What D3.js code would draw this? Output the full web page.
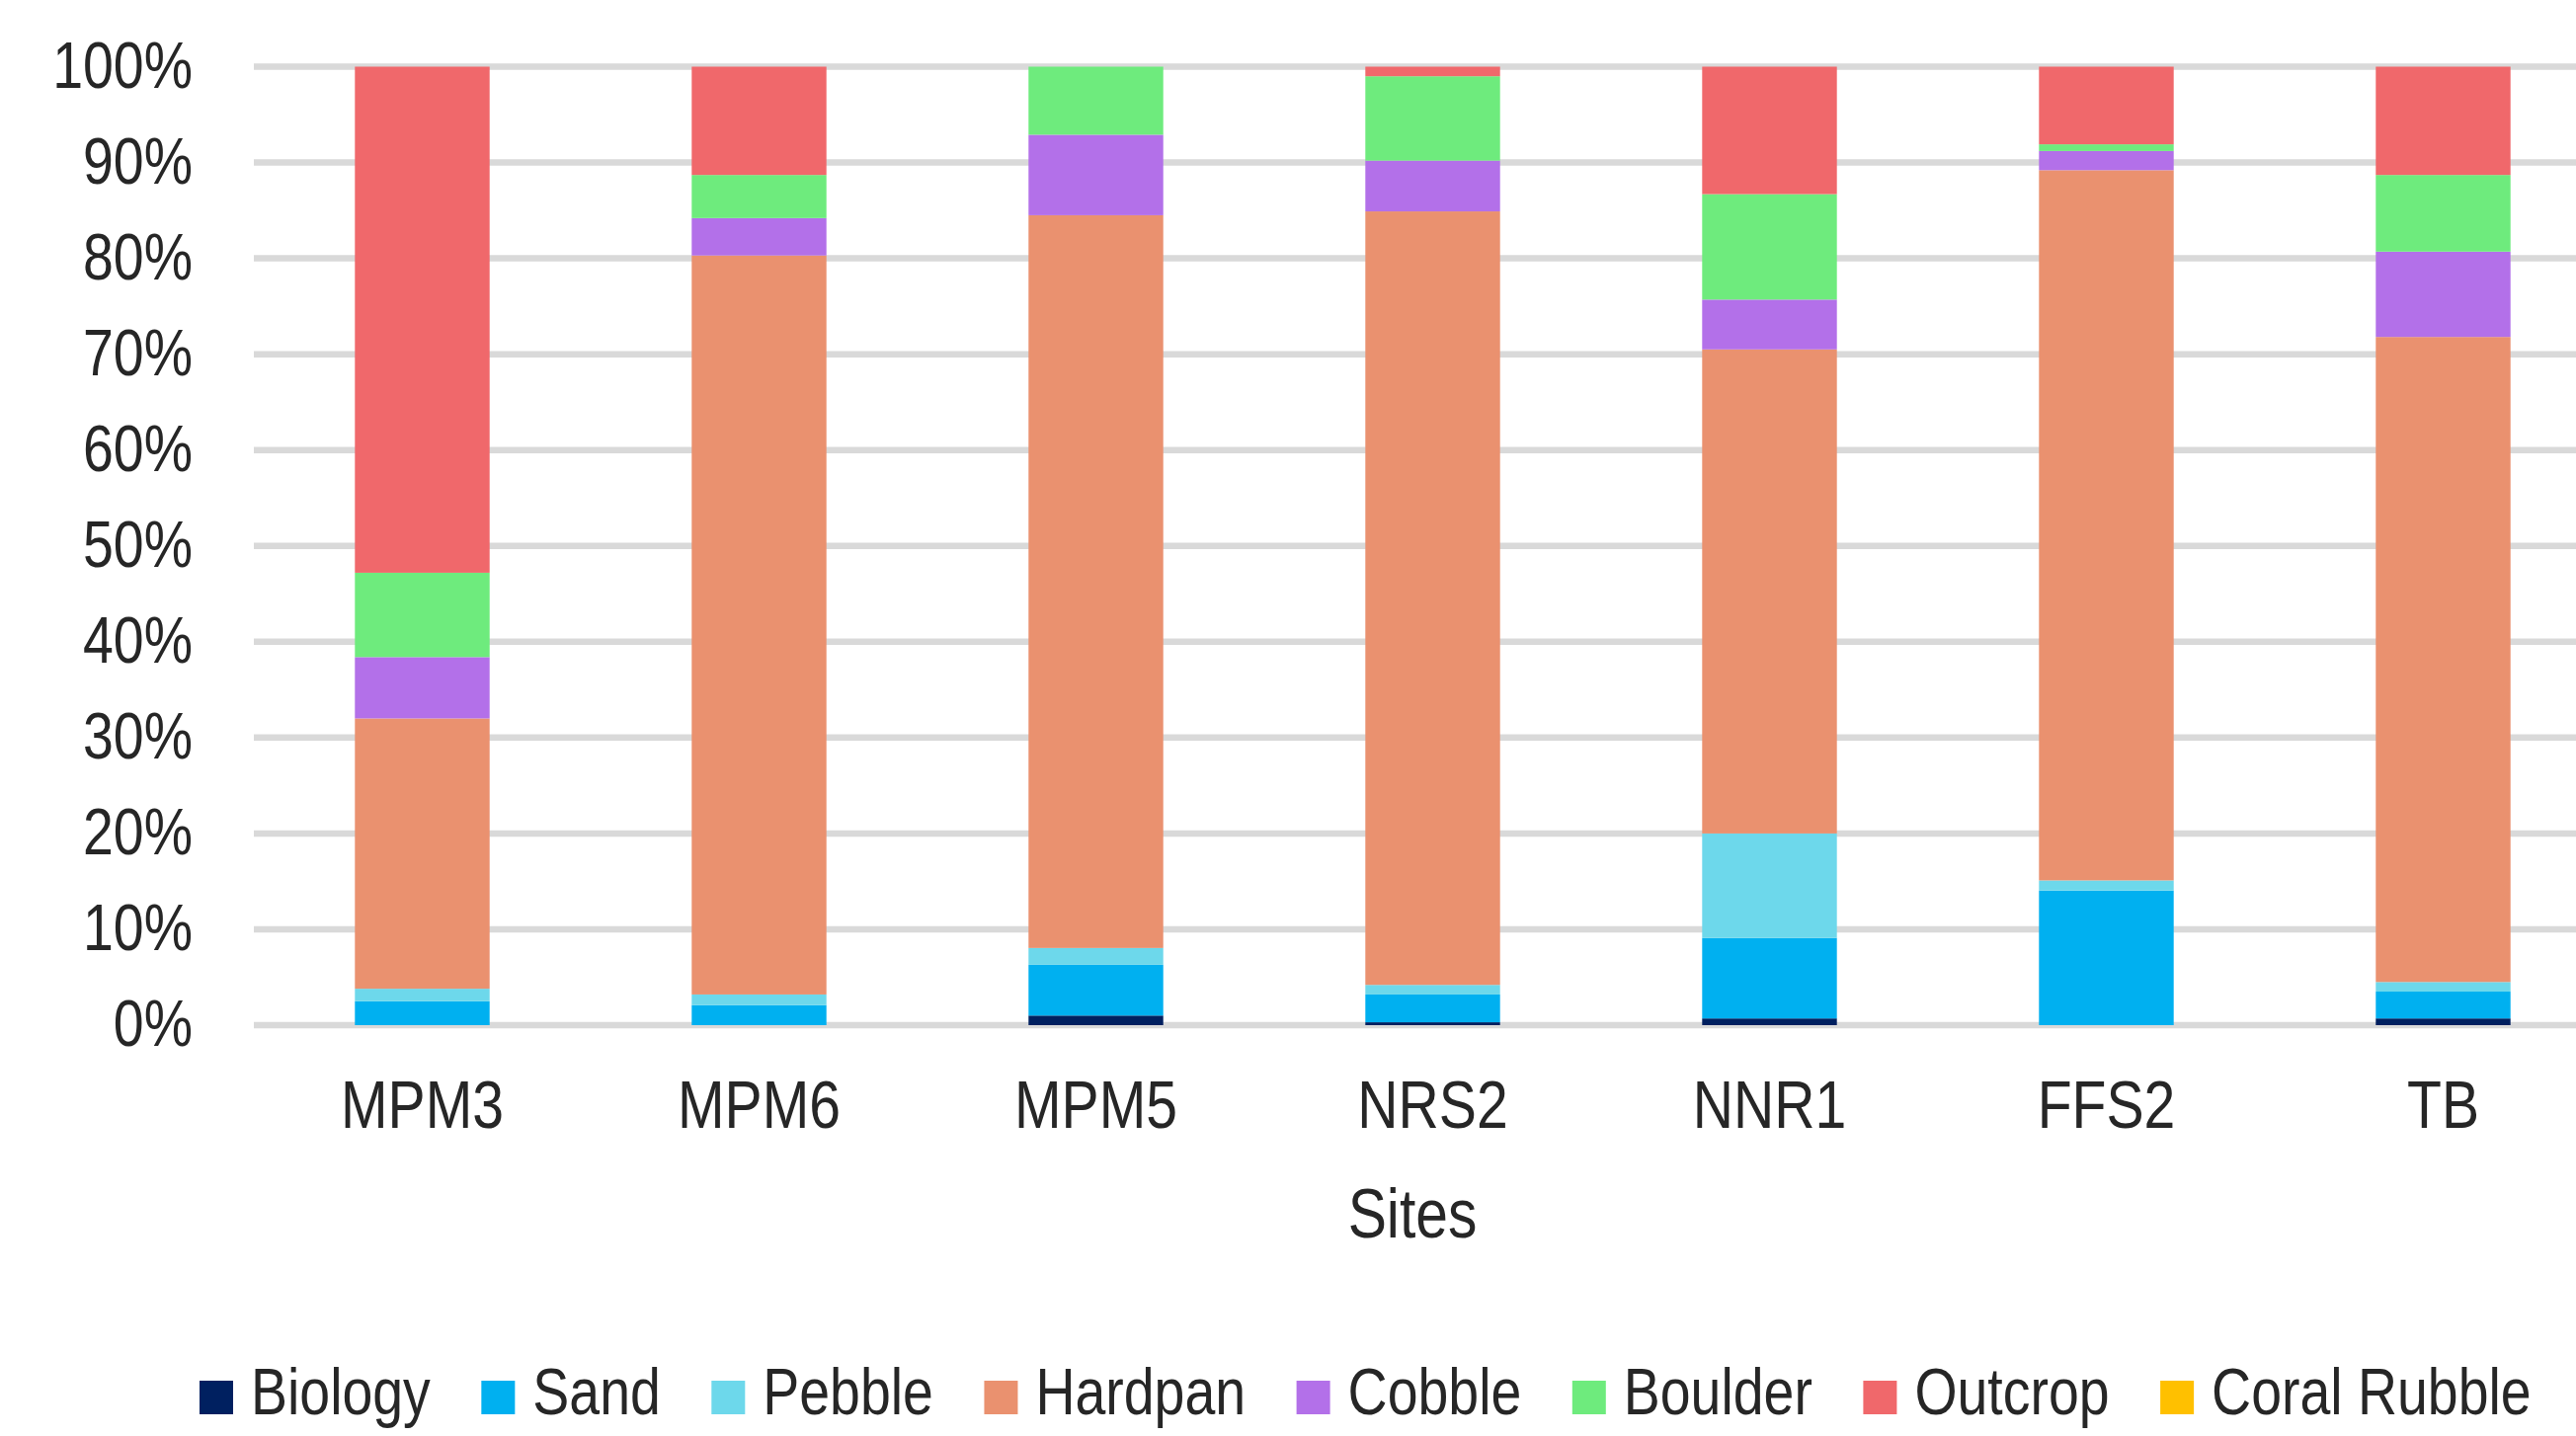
<!DOCTYPE html>
<html>
<head>
<meta charset="utf-8">
<script src="https://d3js.org/d3.v7.min.js"></script>
<style>
  body { margin: 0; background: #fff; }
  text { font-family: "Liberation Sans Narrow", "Arial Narrow", "Liberation Sans", Arial, sans-serif; fill: #262626; }
</style>
</head>
<body>
<div id="chart"></div>
<script>
// sites along the x axis
var sites = ["MPM3", "MPM6", "MPM5", "NRS2", "NNR1", "FFS2", "TB"];

// substrate share per site (%)
var biology     = [0,    0,    1.0,   0.3,  0.7,  0,     0.7];
var sand        = [2.5,  2.1,  5.3,   2.9,  8.4,  14.05, 2.8];
var pebble      = [1.3,  1.1,  1.75,  1.0,  10.9, 1.05,  1.0];
var hardpan     = [28.2, 77.1, 76.45, 80.7, 50.5, 74.1,  67.3];
var cobble      = [6.4,  3.9,  8.4,   5.3,  5.2,  2.0,   8.9];
var boulder     = [8.8,  4.5,  7.1,   8.8,  11.0, 0.7,   8.0];
var outcrop     = [52.8, 11.3, 0,     1.0,  13.3, 8.1,   11.3];
var coralRubble = [0,    0,    0,     0,    0,    0,     0];

var seriesNames = ["Biology", "Sand", "Pebble", "Hardpan", "Cobble", "Boulder", "Outcrop", "Coral Rubble"];
var seriesValues = [biology, sand, pebble, hardpan, cobble, boulder, outcrop, coralRubble];
var seriesColors = ["#002060", "#00B0F0", "#6DD8EB", "#EA916F", "#B370E9", "#6EEB7D", "#F0686B", "#FFC000"];

var yTicks = [0, 0.1, 0.2, 0.3, 0.4, 0.5, 0.6, 0.7, 0.8, 0.9, 1];

var W = 2608, H = 1454;

// the original uses a narrow face; if it isn't installed, squeeze the regular one
var squeeze = 1;
function narrow(sel) {
  sel.each(function() {
    var w = this.getComputedTextLength();
    if (squeeze < 1 && w > 0) {
      d3.select(this)
        .attr("textLength", w * squeeze)
        .attr("lengthAdjust", "spacingAndGlyphs");
    }
  });
}

var svg = d3.select("#chart")
  .append("svg")
    .attr("width", W)
    .attr("height", H);

// check what font we actually got
var probe = svg.append("text").attr("font-size", 100).text("Coral Rubble");
var probeW = probe.node().getComputedTextLength();
probe.remove();
// narrow face gives ~478 px here, regular ~583
if (probeW > 540) squeeze = 0.84;

// build rows for the stack: one object per site
var rows = sites.map(function(s, i) {
  var r = {site: s};
  seriesNames.forEach(function(n, j) { r[n] = seriesValues[j][i] / 100; });
  return r;
});

var stacked = d3.stack().keys(seriesNames)(rows);

// plot runs past the right edge of the window, as in the original
var x = d3.scaleBand()
  .domain(sites)
  .range([257, 2644])
  .paddingInner(0.6)
  .paddingOuter(0.3);

var y = d3.scaleLinear()
  .domain([0, 1])
  .range([1038, 67.5]);

var color = d3.scaleOrdinal().domain(seriesNames).range(seriesColors);

// gridlines
svg.append("g")
  .selectAll("line")
  .data(yTicks)
  .enter()
  .append("line")
    .attr("x1", 257)
    .attr("x2", W)
    .attr("y1", function(d) { return y(d); })
    .attr("y2", function(d) { return y(d); })
    .attr("stroke", "#D9D9D9")
    .attr("stroke-width", 6.5);

// y tick labels
svg.append("g")
  .selectAll("text")
  .data(yTicks)
  .enter()
  .append("text")
    .attr("x", 195)
    .attr("y", function(d) { return y(d) + 21; })
    .attr("text-anchor", "end")
    .attr("font-size", 66)
    .text(function(d) { return d3.format(".0%")(d); })
    .call(narrow);

// stacked bars
svg.append("g")
  .selectAll("g")
  .data(stacked)
  .enter()
  .append("g")
    .attr("fill", function(d) { return color(d.key); })
  .selectAll("rect")
  .data(function(d) { return d; })
  .enter()
  .append("rect")
    .attr("x", function(d) { return x(d.data.site); })
    .attr("y", function(d) { return y(d[1]); })
    .attr("width", x.bandwidth())
    .attr("height", function(d) { return Math.max(0, y(d[0]) - y(d[1])); });

// x labels
svg.append("g")
  .selectAll("text")
  .data(sites)
  .enter()
  .append("text")
    .attr("x", function(d) { return x(d) + x.bandwidth() / 2; })
    .attr("y", 1142)
    .attr("text-anchor", "middle")
    .attr("font-size", 68)
    .text(function(d) { return d; })
    .call(narrow);

// axis title
svg.append("text")
  .attr("x", 1430)
  .attr("y", 1253)
  .attr("text-anchor", "middle")
  .attr("font-size", 70)
  .text("Sites")
  .call(narrow);

// legend, laid out left to right
var legend = svg.append("g");
var lx = 202;
seriesNames.forEach(function(n) {
  legend.append("rect")
    .attr("x", lx)
    .attr("y", 1398)
    .attr("width", 34)
    .attr("height", 34)
    .attr("fill", color(n));
  var t = legend.append("text")
    .attr("x", lx + 52)
    .attr("y", 1432)
    .attr("font-size", 66)
    .text(n)
    .call(narrow);
  var tw = t.node().getComputedTextLength();
  if (squeeze < 1 && !(tw < t.attr("textLength") * 1.01)) tw = tw * squeeze;
  lx = lx + 52 + tw + 51.5;
});
</script>
</body>
</html>
